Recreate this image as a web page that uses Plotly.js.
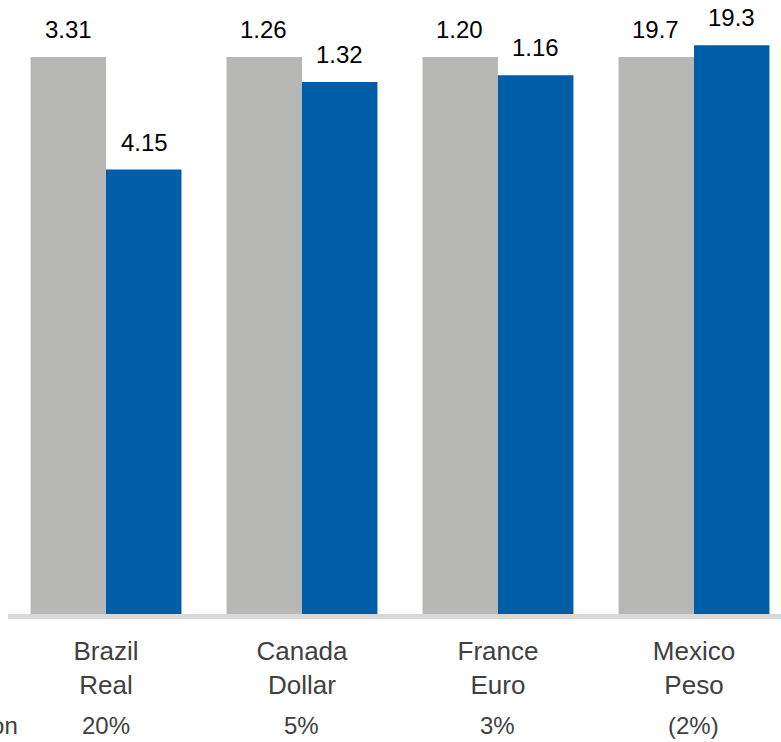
<!DOCTYPE html>
<html>
<head>
<meta charset="utf-8">
<script src="https://cdn.plot.ly/plotly-3.0.1.min.js"></script>
<style>
html,body{margin:0;padding:0;background:#fff;overflow:hidden;}
#chart{width:781px;height:742px;}
</style>
</head>
<body>
<div id="chart"></div>
<script>
// Categories (currency)
const categories = ["Brazil<br>Real", "Canada<br>Dollar", "France<br>Euro", "Mexico<br>Peso"];
// Bar heights, indexed to the prior rate = 100
const priorIndex = [100, 100, 100, 100];
const currentIndex = [79.8, 95.5, 96.7, 102.1];
// Exchange-rate labels shown above bars
const priorLabels = ["3.31", "1.26", "1.20", "19.7"];
const currentLabels = ["4.15", "1.32", "1.16", "19.3"];
// Appreciation / (depreciation) row
const changeLabels = ["20%", "5%", "3%", "(2%)"];
const changeRowTitle = "Depreciation";

const GRAY = "#b7b7b6";
const BLUE = "#005da8";
const FONT = "Liberation Sans, Arial, sans-serif";

const traces = [
  {type: "bar", x: categories, y: priorIndex, marker: {color: GRAY}, hoverinfo: "skip"},
  {type: "bar", x: categories, y: currentIndex, marker: {color: BLUE}, hoverinfo: "skip"}
];

const annotations = [];
categories.forEach((c, i) => {
  annotations.push({x: c, y: priorIndex[i], xref: "x", yref: "y", text: priorLabels[i],
    showarrow: false, xanchor: "center", yanchor: "bottom", xshift: -38, yshift: 12,
    font: {family: FONT, size: 24, color: "#000"}});
  annotations.push({x: c, y: currentIndex[i], xref: "x", yref: "y", text: currentLabels[i],
    showarrow: false, xanchor: "center", yanchor: "bottom", xshift: 38, yshift: 12,
    font: {family: FONT, size: 24, color: "#000"}});
  annotations.push({x: c, y: -0.1824, xref: "x", yref: "paper", text: changeLabels[i],
    showarrow: false, xanchor: "center", yanchor: "middle",
    font: {family: FONT, size: 24, color: "#404040"}});
});
annotations.push({x: 0.0155, y: -0.1824, xref: "paper", yref: "paper", text: changeRowTitle,
  showarrow: false, xanchor: "right", yanchor: "middle",
  font: {family: FONT, size: 24, color: "#404040"}});

const layout = {
  width: 781, height: 742,
  margin: {l: 8, r: 0, t: 0, b: 128},
  paper_bgcolor: "#fff", plot_bgcolor: "#fff",
  barmode: "group", bargap: 0.23, bargroupgap: 0,
  showlegend: false,
  font: {family: FONT},
  xaxis: {
    type: "category", range: [-0.5, 3.444], fixedrange: true,
    showline: true, linecolor: "#d9d9d9", linewidth: 5,
    showgrid: false, zeroline: false, ticks: "",
    tickfont: {family: FONT, size: 26, color: "#404040"},
    ticklabelstandoff: 10
  },
  yaxis: {range: [0, 110.23], visible: false, showgrid: false, zeroline: false, fixedrange: true},
  annotations: annotations
};

Plotly.newPlot("chart", traces, layout, {displayModeBar: false, staticPlot: true});
</script>
</body>
</html>
